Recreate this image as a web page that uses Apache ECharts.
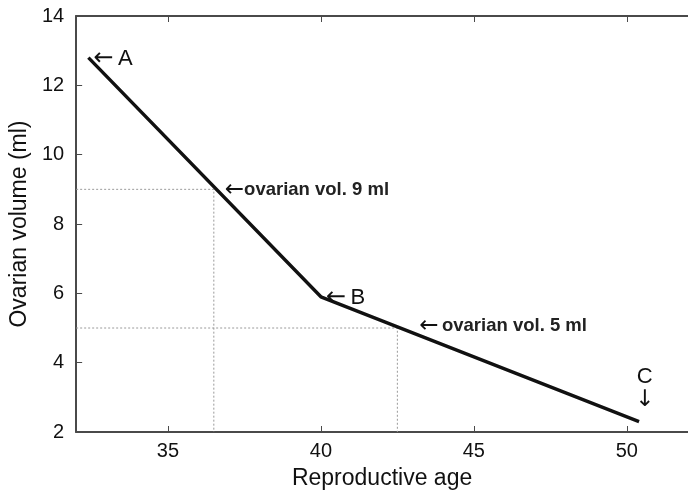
<!DOCTYPE html>
<html>
<head>
<meta charset="utf-8">
<script src="https://cdn.jsdelivr.net/npm/echarts@6/dist/echarts.min.js"></script>
<style>
  html, body { margin: 0; padding: 0; background: #fff; }
  #chart { width: 688px; height: 495px; }
</style>
</head>
<body>
<div id="chart"></div>
<script>
// Ovarian volume decline over reproductive age (piecewise linear: A -> B -> C)
const ages = [32.4, 40.0, 50.4];
const volumes = [12.8, 5.9, 2.3];
const pointNames = ['A', 'B', 'C'];

// Reference volumes marked with dotted guides
const guideAges = [36.5, 42.5];
const guideVolumes = [9, 5];
const guideTexts = ['ovarian vol. 9 ml', 'ovarian vol. 5 ml'];

const xTicks = [35, 40, 45, 50];
const xMin = 32, xMax = 52;
const yMin = 2, yMax = 14, yStep = 2;

const FONT = 'Liberation Sans, Arial, sans-serif';
const AX = '#4a4a4a';
const TXT = '#111';

const chart = echarts.init(document.getElementById('chart'));

const guideSeries = guideAges.map((a, i) => ({
  type: 'line',
  data: [[xMin, guideVolumes[i]], [a, guideVolumes[i]], [a, yMin]],
  symbol: 'none',
  lineStyle: { color: '#9a9a9a', width: 1, type: [2, 2] },
  silent: true,
  z: 1
}));

const curvePoints = ages.map((a, i) => [a, volumes[i]]);

const labelSeries = (data, label, labelLayout) => ({
  type: 'scatter',
  data,
  symbolSize: 0,
  itemStyle: { color: '#000', opacity: 1 },
  label,
  labelLayout,
  silent: true,
  z: 4
});

const option = {
  animation: false,
  backgroundColor: '#fff',
  grid: { left: 76, top: 16, width: 620, height: 417 },
  xAxis: [{
    type: 'value', min: xMin, max: xMax,
    name: 'Reproductive age', nameLocation: 'middle', nameGap: 35,
    nameTextStyle: { fontFamily: FONT, fontSize: 23, color: TXT },
    axisLine: { show: true, lineStyle: { color: AX, width: 2 } },
    axisTick: { show: true, inside: true, length: 6, customValues: xTicks, lineStyle: { color: AX, width: 1 } },
    axisLabel: { customValues: xTicks, fontFamily: FONT, fontSize: 20, color: TXT, margin: 9 },
    splitLine: { show: false }
  }, {
    type: 'value', min: xMin, max: xMax, position: 'top',
    axisLine: { show: true, lineStyle: { color: AX, width: 2 } },
    axisTick: { show: true, inside: true, length: 6, customValues: xTicks, lineStyle: { color: AX, width: 1 } },
    axisLabel: { show: false },
    splitLine: { show: false }
  }],
  yAxis: {
    type: 'value', min: yMin, max: yMax, interval: yStep,
    name: 'Ovarian volume (ml)', nameLocation: 'middle', nameGap: 41, nameRotate: 90,
    nameTextStyle: { fontFamily: FONT, fontSize: 23, color: TXT },
    axisLine: { show: true, lineStyle: { color: AX, width: 2 } },
    axisTick: { show: true, inside: true, length: 6, lineStyle: { color: AX, width: 1 } },
    axisLabel: { fontFamily: FONT, fontSize: 20, color: TXT, margin: 12 },
    splitLine: { show: false }
  },
  series: [
    ...guideSeries,
    {
      type: 'line',
      data: curvePoints,
      symbol: 'none',
      lineStyle: { color: '#111', width: 3.4 },
      z: 3
    },
    // point letters A, B, C with arrows
    labelSeries(
      curvePoints.map((p, i) => ({ value: p, name: pointNames[i] })),
      {
        show: true,
        color: TXT,
        opacity: 1,
        formatter: p => p.dataIndex === 2 ? '{l|C}\n{d|↓}' : '{a|←}{s| }{l|' + p.name + '}',
        rich: {
          a: { fontSize: 24, fontFamily: 'DejaVu Sans', color: TXT },
          d: { fontSize: 23, fontFamily: 'DejaVu Sans', color: TXT, align: 'center' },
          s: { fontSize: 16 },
          l: { fontSize: 22, fontFamily: FONT, color: TXT, align: 'center' }
        },
        position: 'right',
        distance: 5
      },
      p => p.dataIndex === 2 ? { dx: -9, dy: -33 } : { dy: 1 }
    ),
    // guide annotations
    labelSeries(
      guideAges.map((a, i) => ({ value: [a, guideVolumes[i]], name: guideTexts[i] })),
      {
        show: true,
        color: TXT,
        opacity: 1,
        formatter: p => '{a|←}' + (p.dataIndex === 1 ? '{s| }' : '') + '{t|' + p.name + '}',
        rich: {
          a: { fontSize: 23, fontFamily: 'DejaVu Sans', color: TXT },
          s: { fontSize: 12 },
          t: { fontSize: 18.5, fontFamily: FONT, fontWeight: 'bold', color: '#222' }
        },
        position: 'right',
        distance: 11
      },
      p => p.dataIndex === 1 ? { dx: 11, dy: -2 } : { dy: 1 }
    )
  ]
};
chart.setOption(option);
</script>
</body>
</html>
